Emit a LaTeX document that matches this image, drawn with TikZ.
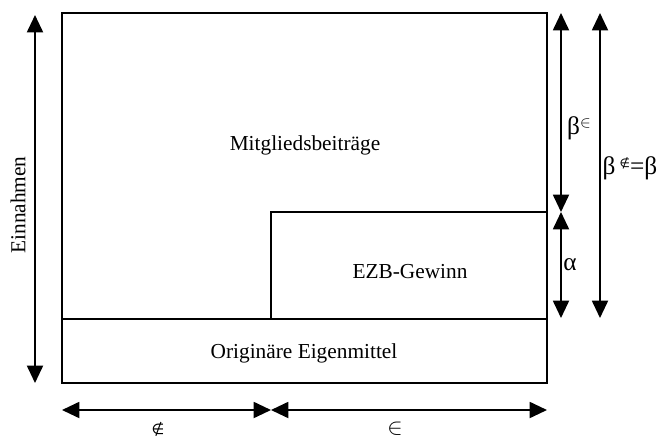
\documentclass[tikz,border=0pt]{standalone}
\usepackage{fontspec}
\setmainfont{Liberation Serif}
\newfontfamily\symfont{DejaVu Sans}
\usetikzlibrary{arrows.meta}
\tikzset{
  dim/.style={{Triangle[length=13pt,width=12pt]}-{Triangle[length=13pt,width=12pt]}, line width=1.4pt},
  part/.style={line width=1.7pt},
  lbl/.style={font=\fontsize{16}{18}\selectfont, inner sep=0pt},
  greek/.style={font=\fontsize{19}{22}\selectfont, inner sep=0pt},
}
\begin{document}
\begin{tikzpicture}[x=0.75pt,y=-0.75pt]
    \useasboundingbox (0,0) rectangle (662,436);
    % Draw the frame and its three parts.
    \draw[part] (62,13) rectangle (547,383);
    \draw[part] (62,319) -- (547,319);
    \draw[part] (271,319) -- (271,212) -- (547,212);
    % End points of the dimension arrows.
    \coordinate (lt) at (35,15);
    \coordinate (lb) at (35,383);
    \coordinate (it) at (561,13);
    \coordinate (im) at (561,212);
    \coordinate (ib) at (561,318);
    \coordinate (ot) at (600,13);
    \coordinate (ob) at (600,318);
    \coordinate (bl) at (62,410);
    \coordinate (bm) at (271,410);
    \coordinate (br) at (547,410);
    % Draw the dimension arrows.
    \draw[dim] (lt) -- (lb);
    \draw[dim] (it) -- (im);
    \draw[dim] (im) -- (ib);
    \draw[dim] (ot) -- (ob);
    \draw[dim] (bl) -- (bm);
    \draw[dim] (bm) -- (br);
    % Labels of the parts and of the arrows.
    \node[lbl] (beitrag) at (305,145) {Mitgliedsbeiträge};
    \node[lbl] (gewinn) at (410,272) {EZB-Gewinn};
    \node[lbl] (eigen) at (304,353) {Originäre Eigenmittel};
    \node[lbl, rotate=90] (einnahmen) at (18,205) {Einnahmen};
    \node[greek] (betain) at (579,128) {β\raisebox{5pt}{\fontsize{12}{12}\selectfont$\in$}};
    \node[greek] (alpha) at (570,265) {α};
    \node[greek] (betanotin) at (630,168) {β\,\raisebox{5pt}{\symfont\fontsize{9}{9}\selectfont ∉}=β};
    \node[lbl] (notin) at (158,429) {\symfont\fontsize{11}{11}\selectfont ∉};
    \node[lbl] (in) at (395,429) {$\in$};
\end{tikzpicture}
\end{document}
